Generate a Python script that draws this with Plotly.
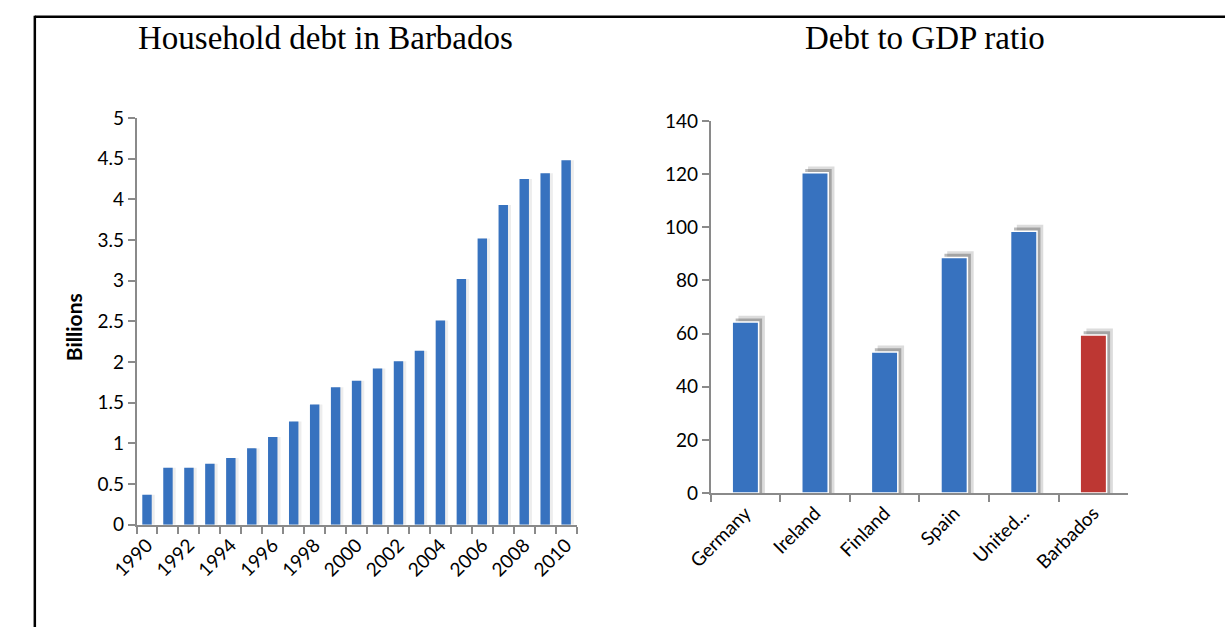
import plotly.graph_objects as go

# ---- data ----
years = list(range(1990, 2011))
household_debt = [0.37, 0.70, 0.70, 0.75, 0.82, 0.94, 1.08, 1.27, 1.48, 1.69, 1.77,
                  1.92, 2.01, 2.14, 2.51, 3.02, 3.52, 3.93, 4.25, 4.32, 4.48]
year_labels = [str(y) for y in years[::2]]

countries = ["Germany", "Ireland", "Finland", "Spain", "United...", "Barbados"]
debt_to_gdp = [64.3, 120.5, 53.1, 88.6, 98.5, 59.5]

BLUE = "#3772bf"
RED = "#bd3733"
AXIS = "#8a8a8a"
TICKFONT = dict(family="Lato, Carlito, Calibri, sans-serif", size=19, color="#000")

W, H = 1225, 638

def px_x(p):
    return p / W

def px_y(p):
    return 1 - p / H

fig = go.Figure()

# faint side shadow behind the household-debt bars
fig.add_trace(go.Bar(
    x=years, y=household_debt, width=0.45, offset=-0.08,
    marker=dict(color="rgba(0,0,0,0.07)", line=dict(width=0)),
    xaxis="x", yaxis="y", showlegend=False, hoverinfo="skip",
))
fig.add_trace(go.Bar(
    x=years, y=household_debt, width=0.45, offset=-0.225,
    marker=dict(color=BLUE, line=dict(width=0)),
    xaxis="x", yaxis="y", showlegend=False,
))

# soft drop shadow behind the ratio bars (two layers)
fig.add_trace(go.Bar(
    x=countries, y=[v + 2.4 for v in debt_to_gdp], width=0.38, offset=-0.10,
    marker=dict(color="rgba(60,60,60,0.18)", line=dict(width=0)),
    xaxis="x2", yaxis="y2", showlegend=False, hoverinfo="skip",
))
fig.add_trace(go.Bar(
    x=countries, y=[v + 1.4 for v in debt_to_gdp], width=0.38, offset=-0.14,
    marker=dict(color="rgba(60,60,60,0.35)", line=dict(width=0)),
    xaxis="x2", yaxis="y2", showlegend=False, hoverinfo="skip",
))

bar_colors = [BLUE] * (len(countries) - 1) + [RED]
fig.add_trace(go.Bar(
    x=countries, y=debt_to_gdp, width=0.38, offset=-0.19,
    marker=dict(color=bar_colors, line=dict(color="white", width=1.5)),
    xaxis="x2", yaxis="y2", showlegend=False,
))

bounds = [y - 0.5 for y in years] + [years[-1] + 0.5]

fig.update_layout(
    width=W, height=H,
    margin=dict(l=0, r=0, t=0, b=0),
    paper_bgcolor="white", plot_bgcolor="white",
    barmode="overlay",
    xaxis=dict(
        domain=[px_x(112), px_x(562)],
        range=[1989.5, 2010.5],
        tickvals=years[::2], ticktext=year_labels,
        tickangle=-45, ticks="", showgrid=False, zeroline=False,
        showline=True, linecolor=AXIS, linewidth=1.5,
        tickfont=TICKFONT,
        minor=dict(tickvals=bounds, ticks="outside", ticklen=7,
                   tickcolor=AXIS, tickwidth=1.5, showgrid=False),
        anchor="y",
    ),
    yaxis=dict(
        domain=[px_y(532), px_y(110)],
        range=[0, 5], dtick=0.5, tick0=0,
        ticks="outside", ticklen=7, tickcolor=AXIS, tickwidth=1.5,
        showline=True, linecolor=AXIS, linewidth=1.5,
        showgrid=False, zeroline=False,
        tickfont=TICKFONT,
        anchor="x",
    ),
    xaxis2=dict(
        domain=[px_x(699), px_x(1126)],
        type="category",
        tickangle=-45, ticks="outside", tickson="boundaries", ticklen=7,
        tickcolor=AXIS, tickwidth=1.5,
        showline=True, linecolor=AXIS, linewidth=1.5,
        showgrid=False, zeroline=False,
        tickfont=dict(family="Lato, sans-serif", size=19, color="#000"),
        anchor="y2",
    ),
    yaxis2=dict(
        domain=[px_y(499), px_y(113)],
        range=[0, 140], dtick=20,
        ticks="outside", ticklen=7, tickcolor=AXIS, tickwidth=1.5,
        showline=True, linecolor=AXIS, linewidth=1.5,
        showgrid=False, zeroline=False,
        tickfont=TICKFONT,
        anchor="x2",
    ),
    annotations=[
        dict(text="Household debt in Barbados", x=px_x(305), y=px_y(27),
             xref="paper", yref="paper", showarrow=False, xanchor="center", yanchor="middle",
             font=dict(family="Liberation Serif, serif", size=33, color="#000")),
        dict(text="Debt to GDP ratio", x=px_x(918), y=px_y(27),
             xref="paper", yref="paper", showarrow=False, xanchor="center", yanchor="middle",
             font=dict(family="Liberation Serif, serif", size=33, color="#000")),
        dict(text="<b>Billions</b>", x=px_x(47), y=px_y(327), textangle=-90,
             xref="paper", yref="paper", showarrow=False, xanchor="center", yanchor="middle",
             font=dict(family="Lato, sans-serif", size=21, color="#000")),
    ],
    shapes=[
        dict(type="line", xref="paper", yref="paper", x0=px_x(8), x1=1, y0=px_y(5), y1=px_y(5),
             line=dict(color="black", width=2.5)),
        dict(type="line", xref="paper", yref="paper", x0=px_x(8), x1=px_x(8), y0=0, y1=px_y(4),
             line=dict(color="black", width=2.5)),
    ],
)

fig.write_html("out.html")
